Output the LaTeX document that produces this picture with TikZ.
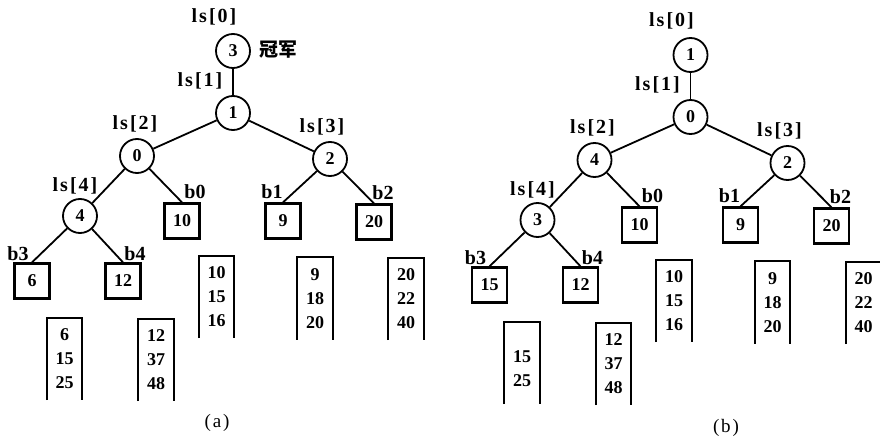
\documentclass[tikz,border=0pt]{standalone}
\usepackage{fontspec}
\setmainfont{Liberation Serif}
\newfontfamily\lblfont{Liberation Serif}[LetterSpace=10]
\newfontfamily\cjk{Noto Sans CJK SC}
\usetikzlibrary{positioning}

\begin{document}
\begin{tikzpicture}[
    x=1pt, y=-1pt,
    font=\fontsize{18}{24}\selectfont\bfseries,
    player/.style={draw, circle, line width=1.8pt, minimum size=34pt, inner sep=0pt},
    leaf/.style={draw, line width=2.3pt, minimum width=35pt, minimum height=35pt, inner sep=0pt},
    run/.style={align=center, minimum width=35pt, minimum height=82pt, inner sep=0pt},
    lbl/.style={inner sep=0pt, font=\fontsize{20}{22}\selectfont\lblfont\bfseries},
    blbl/.style={inner sep=0pt, font=\fontsize{20}{22}\selectfont\bfseries},
    edge/.style={line width=1.8pt},
    runline/.style={line width=2.2pt}
]
\useasboundingbox (0,0) rectangle (880,436);

% (a) loser tree before replacement
\begin{scope}
\node[player] at (233,51) (ta0) {3};
\node[player] at (233,113) (ta1) {1};
\node[player] at (137,156) (ta2) {0};
\node[player] at (330,159) (ta3) {2};
\node[player] at (80,216) (ta4) {4};

\node[lbl] at (214,17) (sa0) {ls[0]};
\node[lbl] at (200,81) (sa1) {ls[1]};
\node[lbl] at (135,124) (sa2) {ls[2]};
\node[lbl] at (322,127) (sa3) {ls[3]};
\node[lbl] at (75,186) (sa4) {ls[4]};
\node[inner sep=0pt, font=\fontsize{19}{22}\selectfont\cjk\bfseries] at (278,50) (champa) {冠军};

\node[leaf] at (182,221) (la0) {10};
\node[leaf] at (283,221) (la1) {9};
\node[leaf] at (374,222) (la2) {20};
\node[leaf] at (32,281) (la3) {6};
\node[leaf] at (123,281) (la4) {12};

\node[blbl] at (195,192) (ba0) {b0};
\node[blbl] at (272,192) (ba1) {b1};
\node[blbl] at (383,193) (ba2) {b2};
\node[blbl] at (18,254) (ba3) {b3};
\node[blbl] at (135,254) (ba4) {b4};

\draw[edge] (ta0) -- (ta1);
\draw[edge] (ta1) -- (ta2);
\draw[edge] (ta1) -- (ta3);
\draw[edge] (ta2) -- (ta4);
\draw[edge] (ta2) -- (la0.north);
\draw[edge] (ta3) -- (la1.north);
\draw[edge] (ta3) -- (la2.north);
\draw[edge] (ta4) -- (la3.north);
\draw[edge] (ta4) -- (la4.north);

\node[run] at (216.5,297) (ca0) {10\\15\\16};
\node[run] at (315,298.5) (ca1) {9\\18\\20};
\node[run] at (406,299) (ca2) {20\\22\\40};
\node[run] at (64.5,359) (ca3) {6\\15\\25};
\node[run] at (156,360) (ca4) {12\\37\\48};
\end{scope}

% (b) after the winner's run supplies its next record
\begin{scope}[shift={(457.5,4)}]
\node[player] at (233,51) (tb0) {1};
\node[player] at (233,113) (tb1) {0};
\node[player] at (137,156) (tb2) {4};
\node[player] at (330,159) (tb3) {2};
\node[player] at (80,216) (tb4) {3};

\node[lbl] at (214,17) (sb0) {ls[0]};
\node[lbl] at (200,81) (sb1) {ls[1]};
\node[lbl] at (135,124) (sb2) {ls[2]};
\node[lbl] at (322,127) (sb3) {ls[3]};
\node[lbl] at (75,186) (sb4) {ls[4]};

\node[leaf] at (182,221) (lb0) {10};
\node[leaf] at (283,221) (lb1) {9};
\node[leaf] at (374,222) (lb2) {20};
\node[leaf] at (32,281) (lb3) {15};
\node[leaf] at (123,281) (lb4) {12};

\node[blbl] at (195,192) (bb0) {b0};
\node[blbl] at (272,192) (bb1) {b1};
\node[blbl] at (383,193) (bb2) {b2};
\node[blbl] at (18,254) (bb3) {b3};
\node[blbl] at (135,254) (bb4) {b4};

\draw[edge] (tb0) -- (tb1);
\draw[edge] (tb1) -- (tb2);
\draw[edge] (tb1) -- (tb3);
\draw[edge] (tb2) -- (tb4);
\draw[edge] (tb2) -- (lb0.north);
\draw[edge] (tb3) -- (lb1.north);
\draw[edge] (tb3) -- (lb2.north);
\draw[edge] (tb4) -- (lb3.north);
\draw[edge] (tb4) -- (lb4.north);

\node[run] at (216.5,297) (cb0) {10\\15\\16};
\node[run] at (315,298.5) (cb1) {9\\18\\20};
\node[run] at (406,299) (cb2) {20\\22\\40};
\node[run] at (64.5,359) (cb3) {\mbox{}\\15\\25};
\node[run] at (156,360) (cb4) {12\\37\\48};
\end{scope}

% open-bottomed run outlines
\foreach \c in {ca0,ca1,ca2,ca3,ca4,cb0,cb1,cb2,cb3,cb4}
  \draw[runline] (\c.south west) -- (\c.north west) -- (\c.north east) -- (\c.south east);

\node[font=\fontsize{19}{22}\selectfont\lblfont] at (217,423) (capa) {(a)};
\node[font=\fontsize{19}{22}\selectfont\lblfont] at (726,428) (capb) {(b)};
\end{tikzpicture}
\end{document}
